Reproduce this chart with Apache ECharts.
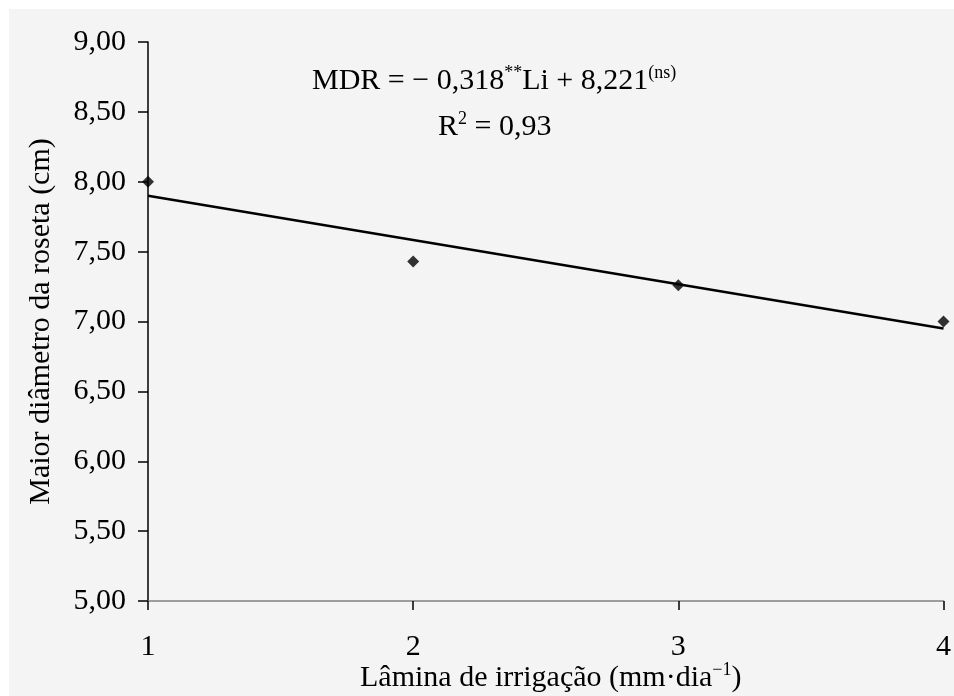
<!DOCTYPE html>
<html><head><meta charset="utf-8">
<script src="https://cdn.jsdelivr.net/npm/echarts@6/dist/echarts.min.js"></script>
<style>html,body{margin:0;padding:0;background:#fff}#c{width:954px;height:696px}</style>
</head><body><div id="c"></div>
<script>
var xValues = [1, 2, 3, 4];
var yValues = [8.00, 7.43, 7.26, 7.00];
var trendX = [1, 4];
var trendY = [7.90, 6.95];
var yTicks = [5, 5.5, 6, 6.5, 7, 7.5, 8, 8.5, 9];

var FONT = '"Liberation Serif","Times New Roman",serif';
var chart = echarts.init(document.getElementById('c'), null, {renderer: 'canvas'});
function fmt(v){ return v.toFixed(2).replace('.', ','); }
chart.setOption({
  backgroundColor: '#ffffff',
  animation: false,
  graphic: [{type: 'rect', z: -10, silent: true, shape: {x: 9, y: 9, width: 945, height: 687}, style: {fill: '#f4f4f4'}},
    {type: 'text', left: 312, top: 64, z: 10, style: {
      text: '{t|MDR = − 0,318}{s|**}{t|Li + 8,221}{s|(ns)}',
      rich: {t: {fontFamily: FONT, fontSize: 30, fill: '#000'}, s: {fontFamily: FONT, fontSize: 18, fill: '#000', padding: [0,0,16,0]}}
    }},
    {type: 'text', left: 438, top: 110, z: 10, style: {
      text: '{t|R}{s|2}{t| = 0,93}',
      rich: {t: {fontFamily: FONT, fontSize: 30, fill: '#000'}, s: {fontFamily: FONT, fontSize: 18, fill: '#000', padding: [0,0,16,0]}}
    }},
    {type: 'text', left: 360, top: 661, z: 10, style: {
      text: '{t|Lâmina de irrigação (mm·dia}{s|−1}{t|)}',
      rich: {t: {fontFamily: FONT, fontSize: 30, fill: '#000'}, s: {fontFamily: FONT, fontSize: 18, fill: '#000', padding: [0,0,16,0]}}
    }}
  ],
  grid: {left: 148, right: 8, top: 42, bottom: 95, containLabel: false},
  xAxis: {
    type: 'value', min: 1, max: 4, interval: 1,
    axisLine: {show: true, onZero: false, lineStyle: {color: '#808080', width: 1.5}},
    axisTick: {show: true, length: 9, lineStyle: {color: '#000', width: 1.5}},
    axisLabel: {fontFamily: FONT, fontSize: 30, color: '#000', margin: 31},
    splitLine: {show: false}
  },
  yAxis: {
    type: 'value', min: 5, max: 9, interval: 0.5,
    name: 'Maior diâmetro da roseta (cm)', nameLocation: 'middle', nameGap: 92, nameRotate: 90,
    nameTextStyle: {fontFamily: FONT, fontSize: 30, color: '#000'},
    axisLine: {show: true, lineStyle: {color: '#000', width: 1.5}},
    axisTick: {show: true, length: 10, lineStyle: {color: '#000', width: 1.5}},
    axisLabel: {fontFamily: FONT, fontSize: 30, color: '#000', margin: 22, formatter: function(v){ return fmt(v); }},
    splitLine: {show: false}
  },
  series: [
    {type: 'line', data: trendX.map(function(x, i){ return [x, trendY[i]]; }), symbol: 'none',
      lineStyle: {color: '#000', width: 2.5}, clip: false, z: 3},
    {type: 'scatter', data: xValues.map(function(x, i){ return [x, yValues[i]]; }), symbol: 'diamond', symbolSize: 12,
      itemStyle: {color: '#000'}, clip: false, z: 4}
  ]
});
</script></body></html>
